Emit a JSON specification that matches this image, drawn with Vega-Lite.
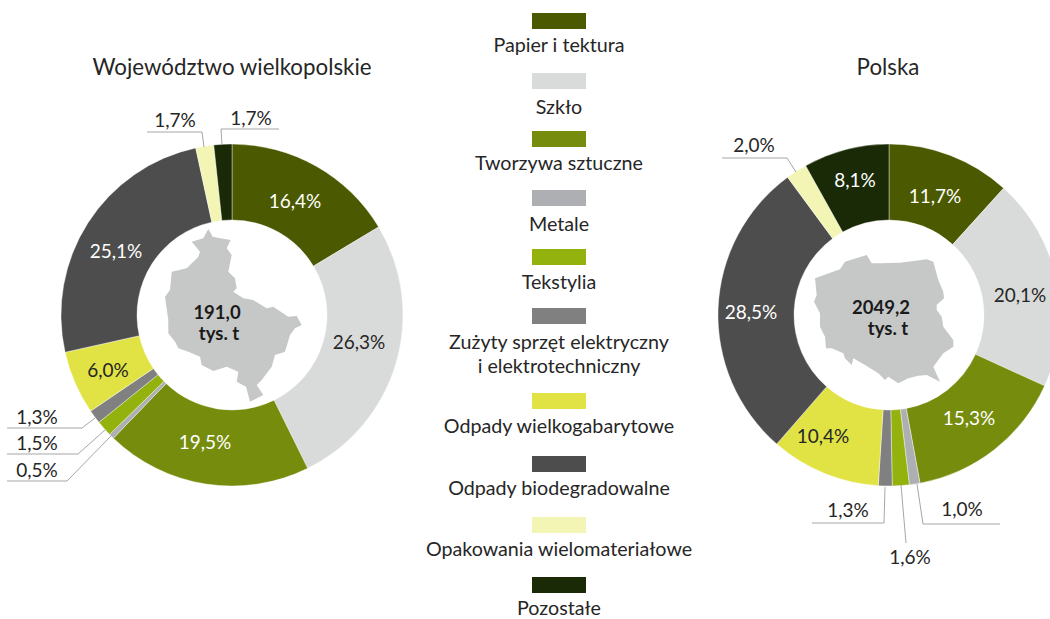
{"$schema":"https://vega.github.io/schema/vega-lite/v6.json","width":1050,"height":619,"autosize":{"type":"none"},"padding":0,"background":"white","view":{"stroke":null},"config":{"text":{"font":"Lato"}},"datasets":{"shares":[
{"region":"Województwo wielkopolskie","category":"Papier i tektura","order":1,"value":16.4,"label":"16,4%","n":1},
{"region":"Województwo wielkopolskie","category":"Szkło","order":2,"value":26.3,"label":"26,3%","n":2},
{"region":"Województwo wielkopolskie","category":"Tworzywa sztuczne","order":3,"value":19.5,"label":"19,5%","n":3},
{"region":"Województwo wielkopolskie","category":"Metale","order":4,"value":0.5,"label":"0,5%","n":4},
{"region":"Województwo wielkopolskie","category":"Tekstylia","order":5,"value":1.5,"label":"1,5%","n":5},
{"region":"Województwo wielkopolskie","category":"Zużyty sprzęt elektryczny\ni elektrotechniczny","order":6,"value":1.3,"label":"1,3%","n":6},
{"region":"Województwo wielkopolskie","category":"Odpady wielkogabarytowe","order":7,"value":6.0,"label":"6,0%","n":7},
{"region":"Województwo wielkopolskie","category":"Odpady biodegradowalne","order":8,"value":25.1,"label":"25,1%","n":8},
{"region":"Województwo wielkopolskie","category":"Opakowania wielomateriałowe","order":9,"value":1.7,"label":"1,7%","n":9},
{"region":"Województwo wielkopolskie","category":"Pozostałe","order":10,"value":1.7,"label":"1,7%","n":10},
{"region":"Polska","category":"Papier i tektura","order":1,"value":11.7,"label":"11,7%","n":11},
{"region":"Polska","category":"Szkło","order":2,"value":20.1,"label":"20,1%","n":12},
{"region":"Polska","category":"Tworzywa sztuczne","order":3,"value":15.3,"label":"15,3%","n":13},
{"region":"Polska","category":"Metale","order":4,"value":1.0,"label":"1,0%","n":14},
{"region":"Polska","category":"Tekstylia","order":5,"value":1.6,"label":"1,6%","n":15},
{"region":"Polska","category":"Zużyty sprzęt elektryczny\ni elektrotechniczny","order":6,"value":1.3,"label":"1,3%","n":16},
{"region":"Polska","category":"Odpady wielkogabarytowe","order":7,"value":10.4,"label":"10,4%","n":17},
{"region":"Polska","category":"Odpady biodegradowalne","order":8,"value":28.5,"label":"28,5%","n":18},
{"region":"Polska","category":"Opakowania wielomateriałowe","order":9,"value":2.0,"label":"2,0%","n":19},
{"region":"Polska","category":"Pozostałe","order":10,"value":8.1,"label":"8,1%","n":20}],
"legend":[{"category":"Papier i tektura","rank":1},{"category":"Szkło","rank":2},{"category":"Tworzywa sztuczne","rank":3},{"category":"Metale","rank":4},{"category":"Tekstylia","rank":5},{"category":"Zużyty sprzęt elektryczny\ni elektrotechniczny","rank":6},{"category":"Odpady wielkogabarytowe","rank":7},{"category":"Odpady biodegradowalne","rank":8},{"category":"Opakowania wielomateriałowe","rank":9},{"category":"Pozostałe","rank":10}],
"regions":[{"region":"Województwo wielkopolskie"},{"region":"Polska"}],
"totals":[{"text":"191,0","n":1},{"text":"tys. t","n":2},{"text":"2049,2","n":3},{"text":"tys. t","n":4}],
"maps":[{"type":"Feature","properties":{"name":"Województwo wielkopolskie"},"geometry":{"type":"Polygon","coordinates":[[[208.3,229],[212.7,236.7],[220,238.3],[230.7,240],[226.7,248.3],[231.7,255],[228.3,271.7],[235,278.3],[236.7,288.3],[233.3,291.7],[243.3,298.3],[253.3,300],[266.7,308.3],[273.3,306.7],[288.3,316.7],[296.7,316],[301.7,325],[295,328.3],[290,335],[285,351.7],[275,355],[271.7,366.7],[261.7,380],[256.7,385],[263.3,395],[250,401.7],[246,386.7],[236.7,381.7],[238.3,371.7],[226.7,366.7],[213.3,371],[201.7,365],[200,356.7],[188.3,351.7],[178.3,348.3],[175,341.7],[168.3,333.3],[168.3,320],[165,296.7],[170,290],[171.7,271.7],[186.7,268.3],[198.3,256.7],[200,251.7],[191.7,241.7],[203.3,238.3],[208.3,229]]]}},
{"type":"Feature","properties":{"name":"Polska"},"geometry":{"type":"Polygon","coordinates":[[[815,278.3],[840,269.3],[845,261.7],[866.7,255],[871.7,263.3],[880,263.3],[900,262.7],[926.7,259.3],[933.3,261.7],[938.3,280],[943.3,291.7],[944,298.3],[936.7,305],[936.7,310],[941.7,316.7],[943.3,326.7],[953.3,340],[953.3,346.7],[943.3,353.3],[933.3,366.7],[940,381.7],[926.7,375],[918.3,375.7],[908.3,378.3],[898.3,383.3],[888.3,376.7],[885,380],[878.3,373.3],[865,365],[853.3,358.3],[851.7,365],[845,358.3],[843.3,353.3],[831.7,348.3],[826,348.3],[825,336.7],[820,326.7],[820,313.3],[814,301.7],[816.7,295],[815,278.3]]]}}],
"leaders":[
{"type":"Feature","properties":{},"geometry":{"type":"LineString","coordinates":[[7,428],[82,428],[95,418]]}},
{"type":"Feature","properties":{},"geometry":{"type":"LineString","coordinates":[[7,454],[78,454],[105,430]]}},
{"type":"Feature","properties":{},"geometry":{"type":"LineString","coordinates":[[7,481],[67,481],[111,436]]}},
{"type":"Feature","properties":{},"geometry":{"type":"LineString","coordinates":[[147,132],[202,132],[204,147]]}},
{"type":"Feature","properties":{},"geometry":{"type":"LineString","coordinates":[[222,145],[221,129],[279,129]]}},
{"type":"Feature","properties":{},"geometry":{"type":"LineString","coordinates":[[722,158],[787,158],[796,172]]}},
{"type":"Feature","properties":{},"geometry":{"type":"LineString","coordinates":[[812,523],[884,523],[885,487]]}},
{"type":"Feature","properties":{},"geometry":{"type":"LineString","coordinates":[[917,484],[923,524],[1000,524]]}},
{"type":"Feature","properties":{},"geometry":{"type":"LineString","coordinates":[[901,485],[906,543]]}}]},
"layer":[
{"data":{"name":"shares"},"transform":[{"stack":"value","groupby":["region"],"sort":[{"field":"order","order":"ascending"}],"as":["t0","t1"]}],"mark":{"type":"arc","innerRadius":95,"outerRadius":171,"stroke":"white","strokeWidth":0.4},
"encoding":{"x":{"field":"region","type":"nominal","axis":null,"scale":{"type":"point","padding":0,"domain":["Województwo wielkopolskie","Polska"],"range":[232,889]}},
"y":{"field":"region","type":"nominal","axis":null,"scale":{"type":"point","padding":0,"domain":["Województwo wielkopolskie","Polska"],"range":[315,315]}},
"theta":{"field":"t0","type":"quantitative","stack":null,"scale":{"domain":[0,100]}},"theta2":{"field":"t1"},
"color":{"field":"category","type":"nominal","legend":null,"scale":{"domain":["Papier i tektura","Szkło","Tworzywa sztuczne","Metale","Tekstylia","Zużyty sprzęt elektryczny\ni elektrotechniczny","Odpady wielkogabarytowe","Odpady biodegradowalne","Opakowania wielomateriałowe","Pozostałe"],"range":["#4b5a00","#d9dbda","#758c0c","#adafb2","#93b20e","#808080","#e0e343","#4d4d4d","#f3f5b5","#1a2a06"]}}}},
{"data":{"name":"maps"},"mark":{"type":"geoshape","fill":"#c6c8c8","stroke":null},"projection":{"type":"identity","scale":1,"translate":[0,0]}},
{"data":{"name":"leaders"},"mark":{"type":"geoshape","filled":false,"fill":null,"stroke":"#a6a6a6","strokeWidth":1},"projection":{"type":"identity","scale":1,"translate":[0,0]}},
{"data":{"name":"shares"},"mark":{"type":"text","fontSize":19,"align":"center","baseline":"middle","dy":0.5},
"encoding":{"x":{"field":"n","type":"quantitative","axis":null,"scale":{"domain":[1,2,3,4,5,6,7,8,9,10,11,12,13,14,15,16,17,18,19,20],"range":[295,359,205,37,37,37,108,116,175,251,935,1020,969,962,910,848,823,751,754,855]}},
"y":{"field":"n","type":"quantitative","axis":null,"scale":{"domain":[1,2,3,4,5,6,7,8,9,10,11,12,13,14,15,16,17,18,19,20],"range":[201,342,442,470,443,417,370,251,120,118,196,295,418,509,557,510,436,312,145,180]}},
"text":{"field":"label"},
"color":{"condition":{"test":"indexof(['Papier i tektura','Tworzywa sztuczne','Odpady biodegradowalne','Pozostałe'],datum.category)>=0 && datum.value>=5","value":"#ffffff"},"value":"#262626"}}},
{"data":{"name":"totals"},"mark":{"type":"text","fontSize":18.5,"fontWeight":"bold","align":"center","baseline":"middle","color":"#1a1a1a","dy":1},
"encoding":{"x":{"field":"n","type":"quantitative","axis":null,"scale":{"domain":[1,2,3,4],"range":[217,219,881,888]}},
"y":{"field":"n","type":"quantitative","axis":null,"scale":{"domain":[1,2,3,4],"range":[312,333,307,328]}},"text":{"field":"text"}}},
{"data":{"name":"regions"},"mark":{"type":"text","fontSize":22.3,"align":"center","baseline":"middle","color":"#262626"},
"encoding":{"x":{"field":"region","type":"nominal","axis":null,"scale":{"type":"point","padding":0,"domain":["Województwo wielkopolskie","Polska"],"range":[232,888]}},
"y":{"field":"region","type":"nominal","axis":null,"scale":{"type":"point","padding":0,"domain":["Województwo wielkopolskie","Polska"],"range":[68,68]}},"text":{"field":"region"}}},
{"data":{"name":"legend"},"mark":{"type":"point","filled":true,"opacity":1,"size":256,"shape":"M-3.375,-1H3.375V1H-3.375Z"},
"encoding":{"x":{"field":"rank","type":"quantitative","axis":null,"scale":{"domain":[1,10],"range":[559,559]}},"y":{"field":"rank","type":"quantitative","axis":null,"scale":{"domain":[1,2,3,4,5,6,7,8,9,10],"range":[21,81,139,198,257,316,401,464,525,585]}},
"color":{"field":"category","type":"nominal","legend":null,"scale":{"domain":["Papier i tektura","Szkło","Tworzywa sztuczne","Metale","Tekstylia","Zużyty sprzęt elektryczny\ni elektrotechniczny","Odpady wielkogabarytowe","Odpady biodegradowalne","Opakowania wielomateriałowe","Pozostałe"],"range":["#4b5a00","#d9dbda","#758c0c","#adafb2","#93b20e","#808080","#e0e343","#4d4d4d","#f3f5b5","#1a2a06"]}}}},
{"data":{"name":"legend"},"mark":{"type":"text","fontSize":19.7,"align":"center","baseline":"middle","lineBreak":"\n","lineHeight":24,"color":"#262626","dy":0.5},
"encoding":{"x":{"field":"rank","type":"quantitative","axis":null,"scale":{"domain":[1,10],"range":[559,559]}},"y":{"field":"rank","type":"quantitative","axis":null,"scale":{"domain":[1,2,3,4,5,6,7,8,9,10],"range":[45,107,163,224,282,342,426,488,549,608]}},"text":{"field":"category"}}}
],
"resolve":{"scale":{"x":"independent","y":"independent","color":"independent","theta":"independent"}}}
